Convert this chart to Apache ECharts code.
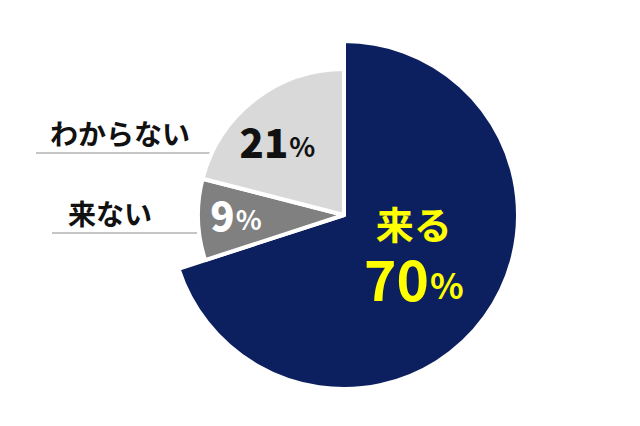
<!DOCTYPE html>
<html>
<head>
<meta charset="utf-8">
<script src="https://cdn.jsdelivr.net/npm/echarts@6/dist/echarts.min.js"></script>
<style>
  html, body { margin: 0; padding: 0; background: #fff; }
  #chart { width: 640px; height: 426px; }
</style>
</head>
<body>
<div id="chart"></div>
<script>
// Pie: 来る / 来ない / わからない
const categories = ['来る', '来ない', 'わからない'];
const values = [70, 9, 21];
const colors = ['#0c1f5e', '#808080', '#d9d9d9'];

const FONT = '"Noto Sans CJK JP", "Noto Sans", sans-serif';
const chart = echarts.init(document.getElementById('chart'), null, { renderer: 'svg' });

const hidden = { color: 'transparent', borderWidth: 0 };

// outer (larger) ring holds only the main slice
const outerData = [
  {
    name: categories[0],
    value: values[0],
    itemStyle: { color: colors[0] },
    label: {
      show: true,
      position: 'inside',
      offset: [-3, -16],
      formatter: `{n|${categories[0]}}\n{v|${values[0]}}{p|%}`
    }
  },
  { name: 'rest', value: values[1] + values[2], itemStyle: hidden, label: { show: false } }
];

// inner ring holds the two smaller slices
const innerOffsets = [null, [-32, -3], [-20, -14]];
const innerText = [null, '#ffffff', '#111111'];
const innerData = [{ name: 'gap', value: values[0], itemStyle: hidden, label: { show: false } }];
for (let i = 1; i < categories.length; i++) {
  innerData.push({
    name: categories[i],
    value: values[i],
    itemStyle: { color: colors[i] },
    label: {
      show: true,
      position: 'inside',
      offset: innerOffsets[i],
      formatter: `{v|${values[i]}}{p|%}`,
      rich: {
        v: { fontFamily: FONT, fontWeight: 900, fontSize: 40, color: innerText[i], lineHeight: 44 },
        p: { fontFamily: FONT, fontWeight: 'bold', fontSize: 27, color: innerText[i], padding: [9, 0, 0, 1], lineHeight: 44 }
      }
    }
  });
}

const option = {
  animation: false,
  series: [
    {
      type: 'pie',
      silent: true,
      center: [344, 215],
      radius: [0, 174],
      startAngle: 90,
      itemStyle: { borderColor: '#fff', borderWidth: 4 },
      labelLine: { show: false },
      label: {
        rich: {
          n: { fontFamily: FONT, fontWeight: 'bold', fontSize: 38, color: '#ffff00', lineHeight: 50 },
          v: { fontFamily: FONT, fontWeight: 'bold', fontSize: 55, color: '#ffff00', lineHeight: 58 },
          p: { fontFamily: FONT, fontWeight: 'bold', fontSize: 35, color: '#ffff00', padding: [14, 0, 0, 1], lineHeight: 58 }
        }
      },
      data: outerData
    },
    {
      type: 'pie',
      silent: true,
      center: [344, 215],
      radius: [0, 146],
      startAngle: 90,
      itemStyle: { borderColor: '#fff', borderWidth: 4 },
      labelLine: { show: false },
      data: innerData
    }
  ],
  graphic: [
    // category names with underline, on the left
    {
      type: 'text', left: 50, top: 119,
      style: { text: categories[2], font: `bold 28px ${FONT}`, fill: '#111' }
    },
    {
      type: 'line', silent: true,
      shape: { x1: 36, y1: 153, x2: 232, y2: 153 },
      style: { stroke: '#8c8c8c', lineWidth: 1 }
    },
    {
      type: 'text', left: 68, top: 199,
      style: { text: categories[1], font: `bold 28px ${FONT}`, fill: '#111' }
    },
    {
      type: 'line', silent: true,
      shape: { x1: 52, y1: 233, x2: 205, y2: 233 },
      style: { stroke: '#8c8c8c', lineWidth: 1 }
    }
  ]
};

chart.setOption(option);
</script>
</body>
</html>
